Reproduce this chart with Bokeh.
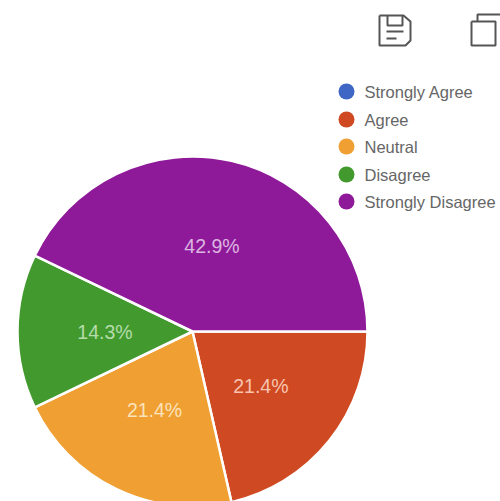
from bokeh.plotting import figure
from bokeh.models import Range1d
from bokeh.core.properties import value
from bokeh.embed import file_html
from bokeh.resources import INLINE
import math

categories = ["Strongly Agree", "Agree", "Neutral", "Disagree", "Strongly Disagree"]
counts = [0, 3, 3, 2, 6]
colors = ["#3f66c4", "#cf4a22", "#f09f33", "#429a2e", "#8f1a99"]
label_colors = ["#ffffff", "#f8c4b0", "#fbe3ba", "#b5dcaa", "#dcb6e2"]

W, H = 500, 501
CX, CY, R = 192, 331, 175

def px(x):
    return x - CX

def py(y):
    return CY - y

p = figure(width=W, height=H, output_backend="svg", toolbar_location=None,
           x_range=Range1d(px(0), px(W)), y_range=Range1d(py(H), py(0)),
           min_border=0, outline_line_color=None, background_fill_color="white",
           border_fill_color="white")
p.axis.visible = False
p.grid.visible = False

total = sum(counts)
cum = 0
for cat, n, col, lc in zip(categories, counts, colors, label_colors):
    if n == 0:
        continue
    a0 = -2 * math.pi * cum / total
    a1 = -2 * math.pi * (cum + n) / total
    p.wedge(x=[0], y=[0], radius=R, start_angle=a1, end_angle=a0,
            fill_color=col, line_color="white", line_width=2.5)
    mid = (a0 + a1) / 2
    p.text(x=[R / 2 * math.cos(mid)], y=[R / 2 * math.sin(mid)],
           text=[f"{100 * n / total:.1f}%"], text_color=lc,
           text_font=value("Liberation Sans"), text_font_size="19.5px",
           text_align="center", text_baseline="middle")
    cum += n

# legend
leg_y = [91, 119, 146, 174, 201]
for cat, col, y in zip(categories, colors, leg_y):
    p.scatter(x=[px(346)], y=[py(y)], size=16, marker="circle", fill_color=col, line_color=None)
    p.text(x=[px(364)], y=[py(y)], text=[cat], text_color="#666666",
           text_font=value("Liberation Sans"), text_font_size="16.5px",
           text_align="left", text_baseline="middle")

# save icon
ic = "#555555"
p.multi_line(xs=[[px(v) for v in s] for s in [
                 [379, 379, 405, 410, 410, 403, 379],
                 [387, 387, 402, 402],
                 [386, 403], [386, 396]]],
             ys=[[py(v) for v in s] for s in [
                 [15, 45, 45, 40, 21, 15, 15],
                 [15, 25, 25, 15],
                 [31, 31], [38, 38]]],
             line_color=ic, line_width=2)
# copy icon
p.multi_line(xs=[[px(v) for v in s] for s in [
                 [471, 471, 495, 495, 471],
                 [477, 477, 500]]],
             ys=[[py(v) for v in s] for s in [
                 [21, 45, 45, 21, 21],
                 [21, 14, 14]]],
             line_color=ic, line_width=2)

open("out.html", "w").write(file_html(p, INLINE))
